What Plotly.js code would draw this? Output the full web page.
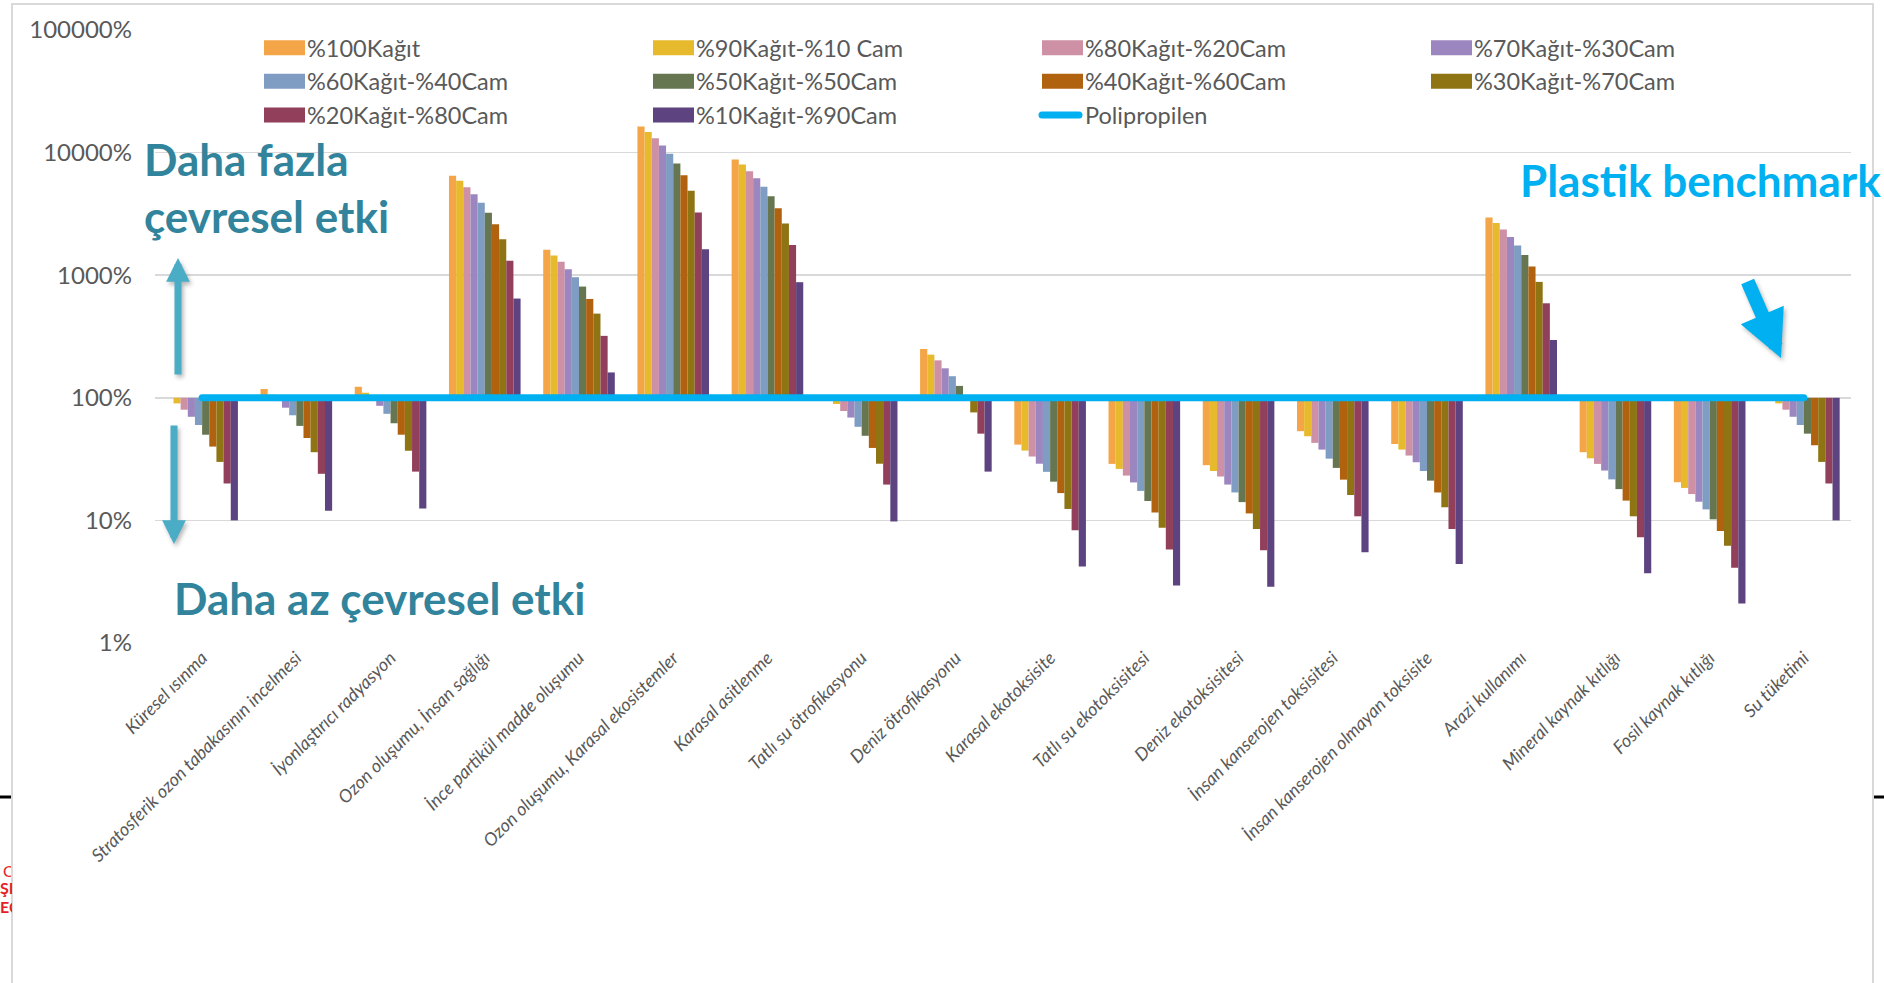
<!DOCTYPE html>
<html>
<head>
<meta charset="utf-8">
<script src="https://cdn.plot.ly/plotly-3.0.1.min.js"></script>
<style>
  html, body { margin: 0; padding: 0; background: #ffffff; }
  #chart { width: 1884px; height: 983px; }
</style>
</head>
<body>
<div id="chart"></div>
<script>
// Impact categories (x axis)
const categories = [
  'Küresel ısınma',
  'Stratosferik ozon tabakasının incelmesi',
  'İyonlaştırıcı radyasyon',
  'Ozon oluşumu, İnsan sağlığı',
  'İnce partikül madde oluşumu',
  'Ozon oluşumu, Karasal ekosistemler',
  'Karasal asitlenme',
  'Tatlı su ötrofikasyonu',
  'Deniz ötrofikasyonu',
  'Karasal ekotoksisite',
  'Tatlı su ekotoksisitesi',
  'Deniz ekotoksisitesi',
  'İnsan kanserojen toksisitesi',
  'İnsan kanserojen olmayan toksisite',
  'Arazi kullanımı',
  'Mineral kaynak kıtlığı',
  'Fosil kaynak kıtlığı',
  'Su tüketimi'
];

// Impact of each paper/glass mix, in % of the polypropylene benchmark
const kagit100 = [100, 118, 123, 6480, 1610, 16300, 8770, 98, 250, 41.5, 28.9, 28.2, 53.4, 42, 2960, 36, 20.5, 100];
const kagit90  = [90, 106, 110, 5900, 1450, 14700, 8000, 89, 225, 37.1, 26.3, 25.3, 48.6, 37.8, 2660, 32.1, 18.4, 90];
const kagit80  = [80, 94, 99, 5210, 1290, 13100, 7040, 78, 202, 33.2, 23.2, 22.8, 42.9, 33.8, 2360, 28.9, 16.4, 80];
const kagit70  = [70, 83, 86, 4570, 1120, 11400, 6180, 69, 174, 29, 20.4, 19.6, 37.8, 29.8, 2050, 25.5, 14.2, 70];
const kagit60  = [60, 72, 74, 3900, 963, 9800, 5270, 58, 150, 24.9, 17.4, 16.9, 31.9, 25.3, 1750, 21.6, 12.3, 60];
const kagit50  = [50, 59, 62, 3230, 808, 8130, 4400, 49, 125, 20.7, 14.4, 14.1, 26.8, 21.1, 1460, 18, 10.2, 51];
const kagit40  = [40, 47, 50, 2600, 640, 6530, 3520, 39, 100, 16.7, 11.6, 11.4, 21.5, 16.9, 1180, 14.5, 8.2, 41];
const kagit30  = [30, 36, 37, 1960, 486, 4890, 2640, 29, 76, 12.4, 8.7, 8.5, 16.1, 12.8, 882, 10.8, 6.2, 30];
const kagit20  = [20, 24, 25, 1310, 320, 3240, 1760, 19.6, 51, 8.3, 5.8, 5.7, 10.8, 8.5, 590, 7.3, 4.1, 20];
const kagit10  = [10, 12, 12.5, 645, 161, 1630, 877, 9.8, 25, 4.2, 2.95, 2.88, 5.5, 4.4, 296, 3.7, 2.1, 10];

// Polypropylene benchmark line (bars start from it)
const polipropilen = [100, 100, 100, 100, 100, 100, 100, 100, 100, 100, 100, 100, 100, 100, 100, 100, 100, 100];

const seriesNames = [
  '%100Kağıt', '%90Kağıt-%10 Cam', '%80Kağıt-%20Cam', '%70Kağıt-%30Cam',
  '%60Kağıt-%40Cam', '%50Kağıt-%50Cam', '%40Kağıt-%60Cam', '%30Kağıt-%70Cam',
  '%20Kağıt-%80Cam', '%10Kağıt-%90Cam'
];
const seriesValues = [kagit100, kagit90, kagit80, kagit70, kagit60, kagit50, kagit40, kagit30, kagit20, kagit10];

// y axis ticks
const tickValues = [1, 10, 100, 1000, 10000, 100000];
const tickLabels = ['1%', '10%', '100%', '1000%', '10000%', '100000%'];

// ---- styling ----
const seriesColors = ['#F3A547', '#E7BA2D', '#CE90A4', '#9C86C0', '#7F9DC2', '#657650', '#B0620F', '#8E7412', '#913F5B', '#5D437F'];
const lineColor = '#00B0F0';
const textTeal = '#31849B';
const arrowTeal = '#4BACC6';
const FONT = 'Lato, "Open Sans", sans-serif';

const W = 1884, H = 983;
const M = { l: 155, r: 33, t: 30, b: 340 };
const plotW = W - M.l - M.r, plotH = H - M.t - M.b;
// page pixel -> paper coordinates (for decorations only)
const px = v => (v - M.l) / plotW;
const py = v => (H - M.b - v) / plotH;

const traces = seriesValues.map((vals, i) => ({
  type: 'bar',
  name: seriesNames[i],
  x: categories,
  base: polipropilen,
  y: vals.map((v, j) => v - polipropilen[j]),
  marker: { color: seriesColors[i], line: { width: 0 } },
  hoverinfo: 'skip'
}));

traces.push({
  type: 'scatter',
  mode: 'lines',
  name: 'Polipropilen',
  x: categories,
  y: polipropilen,
  line: { color: lineColor, width: 7 },
  hoverinfo: 'skip'
});

const red = '#E41E26';
const annotations = [
  { xref: 'paper', yref: 'paper', x: px(142), y: py(131), xanchor: 'left', yanchor: 'top',
    text: 'Daha fazla<br>çevresel etki', align: 'left', showarrow: false,
    font: { family: FONT, size: 44, color: textTeal, weight: 700 } },
  { xref: 'paper', yref: 'paper', x: px(172), y: py(570), xanchor: 'left', yanchor: 'top',
    text: 'Daha az çevresel etki', align: 'left', showarrow: false,
    font: { family: FONT, size: 44, color: textTeal, weight: 700 } },
  { xref: 'paper', yref: 'paper', x: px(1518), y: py(152), xanchor: 'left', yanchor: 'top',
    text: 'Plastik benchmark', align: 'left', showarrow: false,
    font: { family: FONT, size: 44, color: lineColor, weight: 700 } },
  // up arrow
  { xref: 'paper', yref: 'paper', x: px(178), y: py(258), text: '', showarrow: true,
    arrowhead: 2, arrowsize: 0.68, arrowwidth: 7, arrowcolor: arrowTeal, ax: 0, ay: 118 },
  // down arrow
  { xref: 'paper', yref: 'paper', x: px(174), y: py(544), text: '', showarrow: true,
    arrowhead: 2, arrowsize: 0.68, arrowwidth: 7, arrowcolor: arrowTeal, ax: 0, ay: -120 },
  // benchmark arrow
  { xref: 'paper', yref: 'paper', x: px(1781), y: py(358), text: '', showarrow: true,
    arrowhead: 2, arrowsize: 0.67, arrowwidth: 14, arrowcolor: lineColor, ax: -34, ay: -78 },
  // red letters peeking at the left edge
  { xref: 'paper', yref: 'paper', x: px(2), y: py(870), xanchor: 'left', yanchor: 'middle',
    text: 'C', showarrow: false, width: 8, align: 'left', borderpad: 0,
    font: { family: FONT, size: 16, color: red } },
  { xref: 'paper', yref: 'paper', x: px(-1), y: py(888), xanchor: 'left', yanchor: 'middle',
    text: 'ŞI', showarrow: false, width: 12, align: 'left', borderpad: 0,
    font: { family: FONT, size: 16, color: red, weight: 700 } },
  { xref: 'paper', yref: 'paper', x: px(-1), y: py(906), xanchor: 'left', yanchor: 'middle',
    text: 'EC', showarrow: false, width: 12, align: 'left', borderpad: 0,
    font: { family: FONT, size: 16, color: red, weight: 700 } }
];

const shapes = [
  // chart frame
  { type: 'rect', xref: 'paper', yref: 'paper', x0: px(12), x1: px(1873), y0: py(4), y1: py(1100),
    line: { color: '#D9D9D9', width: 2 }, fillcolor: 'rgba(0,0,0,0)', layer: 'below' },
  // small black marks at the edges
  { type: 'line', xref: 'paper', yref: 'paper', x0: px(0), x1: px(11), y0: py(797), y1: py(797),
    line: { color: '#000000', width: 3 } },
  { type: 'line', xref: 'paper', yref: 'paper', x0: px(1874), x1: px(1884), y0: py(797), y1: py(797),
    line: { color: '#000000', width: 3 } }
];

const layout = {
  width: W, height: H,
  margin: M,
  paper_bgcolor: '#ffffff',
  plot_bgcolor: '#ffffff',
  font: { family: FONT, color: '#595959' },
  barmode: 'group',
  bargap: 0.24,
  bargroupgap: 0,
  xaxis: {
    type: 'category',
    tickangle: -45,
    tickfont: { family: FONT, size: 18, color: '#595959', style: 'italic' },
    showgrid: false, showline: false, zeroline: false, ticks: ''
  },
  yaxis: {
    type: 'log',
    range: [0, 5],
    tickvals: tickValues,
    ticktext: tickLabels,
    tickfont: { family: FONT, size: 24, color: '#595959' },
    gridcolor: '#D9D9D9', gridwidth: 1.5,
    showline: false, zeroline: false, ticks: '',
    ticklabelstandoff: 22
  },
  showlegend: true,
  legend: {
    orientation: 'h',
    x: px(256), y: py(26), xanchor: 'left', yanchor: 'top',
    entrywidth: 333, entrywidthmode: 'pixels',
    itemwidth: 41,
    traceorder: 'normal',
    bgcolor: 'rgba(0,0,0,0)',
    font: { family: FONT, size: 23.5, color: '#595959' }
  },
  annotations: annotations,
  shapes: shapes
};

// wide legend swatches, rounded benchmark line, soft arrow shadows
function finishStyling(gd) {
  gd.querySelectorAll('.legend .traces').forEach(tr => {
    tr.querySelectorAll('.legendpoints path').forEach(p => {
      p.setAttribute('d', 'M-17.5,-7.5H23.5V7.5H-17.5Z');
    });
    tr.querySelectorAll('.legendlines path').forEach(p => {
      p.setAttribute('d', 'M8,0H45');
      p.style.strokeLinecap = 'round';
    });
  });
  gd.querySelectorAll('.scatterlayer .js-line').forEach(p => { p.style.strokeLinecap = 'round'; });
  gd.querySelectorAll('.annotation-arrow-g').forEach(g => {
    g.style.filter = 'drop-shadow(2px 3px 2px rgba(0,0,0,0.28))';
  });
}

Plotly.newPlot('chart', traces, layout, { staticPlot: true, displayModeBar: false, responsive: false })
  .then(gd => {
    finishStyling(gd);
    gd.on('plotly_afterplot', () => finishStyling(gd));
    setTimeout(() => finishStyling(gd), 50);
  });
</script>
</body>
</html>
